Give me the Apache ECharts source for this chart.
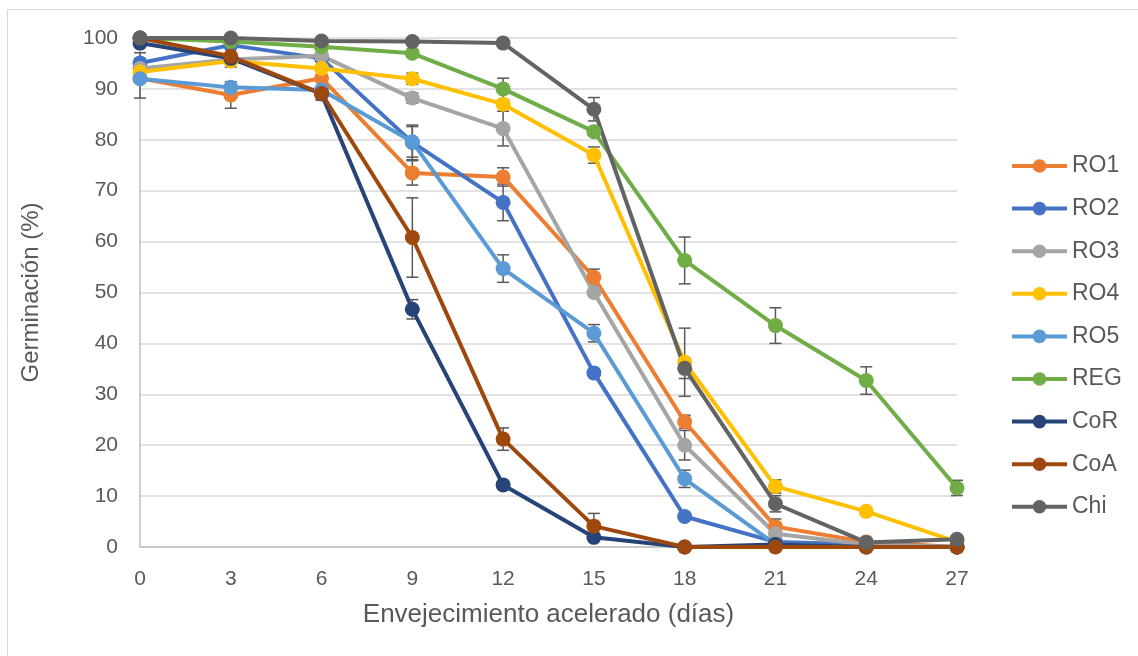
<!DOCTYPE html>
<html><head><meta charset="utf-8">
<script src="https://cdn.jsdelivr.net/npm/echarts@6/dist/echarts.min.js"></script>
<style>html,body{margin:0;padding:0;background:#fff}#c{width:1138px;height:656px}</style>
</head><body><div id="c"></div>
<script>
var days = [0, 3, 6, 9, 12, 15, 18, 21, 24, 27];
var names = ['RO1','RO2','RO3','RO4','RO5','REG','CoR','CoA','Chi'];
var colors = ['#ED7D31','#4472C4','#A5A5A5','#FFC000','#5B9BD5','#70AD47','#264478','#9E480E','#636363'];
var RO1 = [92.1, 88.8, 92.1, 73.5, 72.7, 53.0, 24.6, 4.0, 1.0, 0.0];
var RO2 = [95.1, 98.6, 96.0, 79.5, 67.7, 34.2, 6.0, 1.0, 0.5, 0.0];
var RO3 = [94.0, 95.8, 96.5, 88.2, 82.2, 50.0, 20.0, 2.6, 0.5, 0.0];
var RO4 = [93.3, 95.5, 94.0, 92.0, 87.0, 77.0, 36.3, 11.9, 7.0, 1.0];
var RO5 = [92.0, 90.3, 89.8, 79.6, 54.7, 42.0, 13.4, 0.5, 0.0, 0.0];
var REG = [100.0, 99.3, 98.3, 97.0, 90.0, 81.6, 56.3, 43.5, 32.7, 11.6];
var CoR = [99.0, 96.0, 89.0, 46.7, 12.2, 1.9, 0.0, 0.5, 0.0, 0.0];
var CoA = [100.0, 96.4, 89.1, 60.8, 21.2, 4.1, 0.0, 0.0, 0.0, 0.0];
var Chi = [100.0, 100.0, 99.4, 99.3, 99.0, 86.0, 35.1, 8.5, 0.9, 1.5];
var errRO1 = [3.9, 2.6, 0, 2.4, 1.8, 1.6, 1.3, 1.5, 0, 0];
var errRO2 = [2.0, 0, 0, 3.4, 3.6, 0, 0, 0, 0, 0];
var errRO3 = [0, 0, 0, 1.0, 3.4, 0, 2.9, 0, 0, 0];
var errRO4 = [0, 1.2, 0, 1.1, 0, 1.6, 6.7, 1.3, 0, 0];
var errRO5 = [0, 0, 0, 3.0, 2.7, 1.7, 1.7, 0, 0, 0];
var errREG = [0, 0, 0, 0, 2.1, 0, 4.6, 3.5, 2.7, 1.5];
var errCoR = [0, 0, 1.2, 1.9, 0.8, 0, 0, 0, 0, 0];
var errCoA = [0, 0, 1.2, 7.8, 2.2, 2.5, 0, 0, 0, 0];
var errChi = [0, 0, 0, 0, 0, 2.3, 2.0, 1.6, 0, 0];
var yTicks = [0, 10, 20, 30, 40, 50, 60, 70, 80, 90, 100];

var values = [RO1, RO2, RO3, RO4, RO5, REG, CoR, CoA, Chi];
var errs = [errRO1, errRO2, errRO3, errRO4, errRO5, errREG, errCoR, errCoA, errChi];

var font = 'Liberation Sans, Arial, sans-serif';
var txt = '#595959';

var errData = [];
values.forEach(function (vals, si) {
  vals.forEach(function (v, i) {
    var e = errs[si][i];
    if (e > 0) errData.push([days[i], v - e, v + e]);
  });
});

var series = names.map(function (n, si) {
  return {
    name: n, type: 'line', z: 3,
    data: days.map(function (d, i) { return [d, values[si][i]]; }),
    symbol: 'circle', symbolSize: 15,
    lineStyle: { width: 4, color: colors[si] },
    itemStyle: { color: colors[si] },
    emphasis: { disabled: true }
  };
});
series.push({
  type: 'custom', z: 2, silent: true,
  data: errData,
  renderItem: function (params, api) {
    var x = api.value(0);
    var p1 = api.coord([x, api.value(1)]);
    var p2 = api.coord([x, api.value(2)]);
    var w = 6;
    var st = { stroke: '#595959', lineWidth: 1.5 };
    return { type: 'group', children: [
      { type: 'line', shape: { x1: p1[0], y1: p1[1], x2: p2[0], y2: p2[1] }, style: st },
      { type: 'line', shape: { x1: p1[0] - w, y1: p1[1], x2: p1[0] + w, y2: p1[1] }, style: st },
      { type: 'line', shape: { x1: p2[0] - w, y1: p2[1], x2: p2[0] + w, y2: p2[1] }, style: st }
    ]};
  }
});

var chart = echarts.init(document.getElementById('c'));
chart.setOption({
  animation: false,
  backgroundColor: '#fff',
  graphic: [{ type: 'rect', shape: { x: 7.5, y: 9.5, width: 1140, height: 660 },
    style: { fill: 'none', stroke: '#d9d9d9', lineWidth: 1 }, z: -1 }],
  grid: { left: 140, right: 181, top: 38, bottom: 109, containLabel: false },
  xAxis: {
    type: 'value', min: 0, max: 27, interval: 3,
    name: 'Envejecimiento acelerado (días)', nameLocation: 'middle', nameGap: 55,
    nameTextStyle: { fontFamily: font, fontSize: 26, color: txt },
    axisLine: { show: true, lineStyle: { color: '#bfbfbf', width: 1.5 } },
    axisTick: { show: false },
    splitLine: { show: false },
    axisLabel: { fontFamily: font, fontSize: 21, color: txt, margin: 22 }
  },
  yAxis: {
    type: 'value', min: yTicks[0], max: yTicks[yTicks.length - 1], interval: 10,
    name: 'Germinación (%)', nameLocation: 'middle', nameGap: 97, nameRotate: 90,
    nameTextStyle: { fontFamily: font, fontSize: 24, color: txt },
    axisLine: { show: true, lineStyle: { color: '#bfbfbf', width: 1.5 } },
    axisTick: { show: false },
    splitLine: { show: true, lineStyle: { color: '#d9d9d9', width: 1.5 } },
    axisLabel: { fontFamily: font, fontSize: 21, color: txt, margin: 22 }
  },
  legend: {
    orient: 'vertical', left: 1005, top: 149,
    itemWidth: 55, itemHeight: 17, itemGap: 18.6,
    data: names,
    lineStyle: { width: 4 },
    textStyle: { fontFamily: font, fontSize: 23, color: txt, lineHeight: 24 }
  },
  series: series
});
</script></body></html>
